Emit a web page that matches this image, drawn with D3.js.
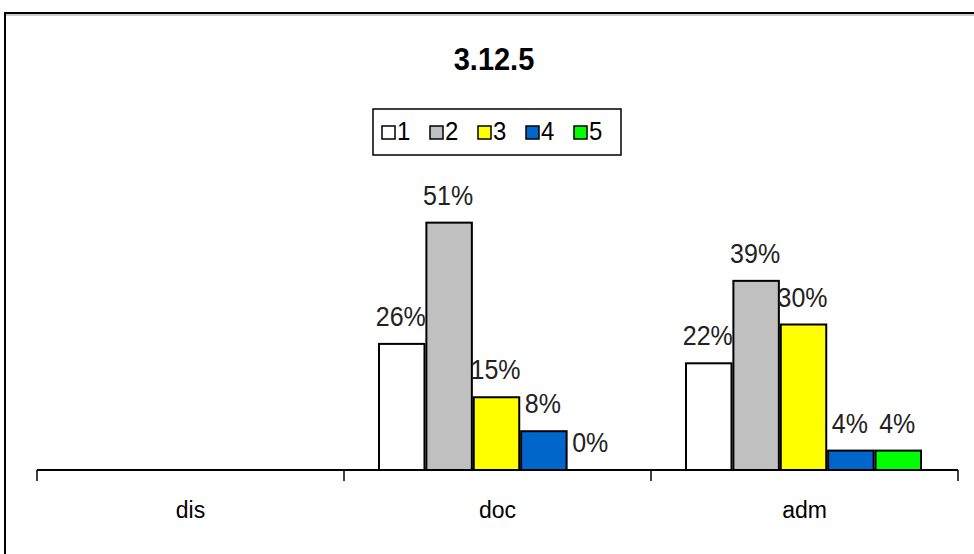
<!DOCTYPE html>
<html>
<head>
<meta charset="utf-8">
<script src="https://cdn.jsdelivr.net/npm/d3@7"></script>
<style>
  html, body { margin: 0; padding: 0; background: #fff; }
  svg { display: block; font-family: "Liberation Sans", Arial, sans-serif; }
</style>
</head>
<body>
<svg id="chart" width="974" height="554"></svg>
<script>
// Chart data
const title = "3.12.5";
const categories = ["dis", "doc", "adm"];
const seriesNames = ["1", "2", "3", "4", "5"];
const seriesColors = ["#FFFFFF", "#C0C0C0", "#FFFF00", "#0066CC", "#00FF00"];
// percentages per category, one array per series (null = no bar)
const values1 = [null, 26, 22];
const values2 = [null, 51, 39];
const values3 = [null, 15, 30];
const values4 = [null, 8, 4];
const values5 = [null, 0, 4];

const seriesValues = [values1, values2, values3, values4, values5];

const svg = d3.select("#chart");

// outer frame (top and left edges visible)
svg.append("path")
  .attr("d", "M5,554 V13 H974")
  .attr("fill", "none").attr("stroke", "#000").attr("stroke-width", 2);
svg.append("line")
  .attr("x1", 6).attr("x2", 974).attr("y1", 15).attr("y2", 15)
  .attr("stroke", "#999").attr("stroke-width", 1);

// scales
const x0 = d3.scaleBand().domain(categories).range([37, 958]).paddingInner(0).paddingOuter(0);
const x1 = d3.scaleBand().domain(seriesNames).range([35, 270]).paddingInner(0.04);
const y = d3.scaleLinear().domain([0, 60]).range([470, 179]);

// slightly tall, narrow lettering
function tallText(sel, x, yPos, sy) {
  return sel.attr("transform", `translate(${x},${yPos}) scale(1,${sy})`);
}

// title
tallText(svg.append("text"), 494, 70, 1.05)
  .attr("text-anchor", "middle")
  .attr("font-size", 29).attr("font-weight", "bold")
  .text(title);

// legend
const legend = svg.append("g");
legend.append("rect")
  .attr("x", 373).attr("y", 109).attr("width", 248).attr("height", 46)
  .attr("fill", "#fff").attr("stroke", "#000").attr("stroke-width", 1.5);
const legendX = [382, 430, 478, 526, 574];
seriesNames.forEach((name, i) => {
  legend.append("rect")
    .attr("x", legendX[i]).attr("y", 126).attr("width", 13).attr("height", 13)
    .attr("fill", seriesColors[i]).attr("stroke", "#000").attr("stroke-width", 1.5);
  tallText(legend.append("text"), legendX[i] + 15, 139.5, 1.08)
    .attr("font-size", 24).attr("fill", "#000")
    .text(name);
});

// bars
const groups = svg.append("g").selectAll("g")
  .data(categories)
  .join("g")
  .attr("transform", d => `translate(${x0(d)},0)`);

groups.each(function(cat, ci) {
  const g = d3.select(this);
  seriesNames.forEach((name, si) => {
    const v = seriesValues[si][ci];
    if (v === null) return;
    const bx = x1(name);
    const bw = x1.bandwidth();
    if (v > 0) {
      g.append("rect")
        .attr("x", bx).attr("y", y(v))
        .attr("width", bw).attr("height", y(0) - y(v))
        .attr("fill", seriesColors[si])
        .attr("stroke", "#000").attr("stroke-width", 2);
    }
    tallText(g.append("text"), bx + bw / 2 - 1, y(v) - 18, 1.13)
      .attr("text-anchor", "middle")
      .attr("font-size", 25).attr("fill", "#222")
      .text(v + "%");
  });
});

// category axis
const axisG = svg.append("g").attr("transform", "translate(0,470)");
axisG.append("line")
  .attr("x1", 37).attr("x2", 958).attr("y1", 0).attr("y2", 0)
  .attr("stroke", "#000").attr("stroke-width", 2);
const tickPos = categories.map(c => x0(c)).concat([x0(categories[categories.length - 1]) + x0.bandwidth()]);
axisG.selectAll("line.tick")
  .data(tickPos)
  .join("line")
  .attr("class", "tick")
  .attr("x1", d => d).attr("x2", d => d)
  .attr("y1", 0).attr("y2", 11)
  .attr("stroke", "#000").attr("stroke-width", 1.5);
axisG.selectAll("text.cat")
  .data(categories)
  .join("text")
  .attr("class", "cat")
  .attr("transform", d => `translate(${x0(d) + x0.bandwidth() / 2},48) scale(1,1.05)`)
  .attr("text-anchor", "middle")
  .attr("font-size", 23).attr("fill", "#000")
  .text(d => d);
</script>
</body>
</html>
